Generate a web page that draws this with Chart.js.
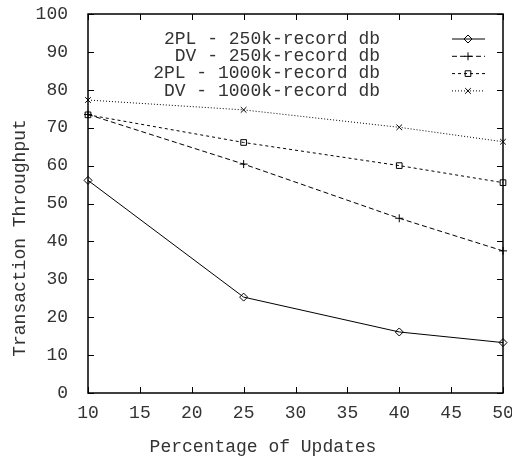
<!DOCTYPE html>
<html>
<head>
<meta charset="utf-8">
<script src="https://cdn.jsdelivr.net/npm/chart.js@4/dist/chart.umd.min.js"></script>
<style>
  body { margin: 0; background: #fff; }
  canvas { display: block; }
</style>
</head>
<body>
<canvas id="chart" width="512" height="460"></canvas>
<script>
// percentage of updates on the x axis
const updates = [10, 25, 40, 50];

// throughput values
const tpl250 = [56.1, 25.3, 16.1, 13.3];
const dv250 = [73.5, 60.4, 46.1, 37.5];
const tpl1000 = [73.4, 66.1, 60.0, 55.5];
const dv1000 = [77.3, 74.7, 70.1, 66.3];

const seriesNames = [
    '2PL - 250k-record db',
    'DV - 250k-record db',
    '2PL - 1000k-record db',
    'DV - 1000k-record db'
];

const xTicks = [10, 15, 20, 25, 30, 35, 40, 45, 50];
const yTicks = [0, 10, 20, 30, 40, 50, 60, 70, 80, 90, 100];

const FONT = '"Liberation Mono", "DejaVu Sans Mono", monospace';

function pts(ys) {
    return updates.map((x, i) => ({x: x, y: ys[i]}));
}

function makeSet(label, ys, style, dash) {
    return {
        label: label,
        data: pts(ys),
        borderColor: '#000',
        backgroundColor: 'rgba(0,0,0,0)',
        borderWidth: 1,
        borderDash: dash,
        pointStyle: style,
        pointRadius: 4,
        pointBorderWidth: 1,
        pointBorderColor: '#000',
        pointBackgroundColor: 'rgba(0,0,0,0)',
        tension: 0,
        clip: false
    };
}

// frame, inward ticks, legend and axis titles
const gnuplotLook = {
    id: 'gnuplotLook',
    afterDraw(chart) {
        const c = chart.ctx;
        const a = chart.chartArea;
        const xs = chart.scales.x;
        const ys = chart.scales.y;
        c.save();
        c.strokeStyle = '#000';
        c.lineWidth = 1;
        c.setLineDash([]);
        c.beginPath();
        xTicks.forEach(v => {
            const px = Math.round(xs.getPixelForValue(v)) + 0.5;
            c.moveTo(px, a.bottom); c.lineTo(px, a.bottom - 6);
            c.moveTo(px, a.top); c.lineTo(px, a.top + 6);
        });
        yTicks.forEach(v => {
            const py = Math.round(ys.getPixelForValue(v)) + 0.5;
            c.moveTo(a.left, py); c.lineTo(a.left + 6, py);
            c.moveTo(a.right, py); c.lineTo(a.right - 6, py);
        });
        c.stroke();
        c.lineWidth = 1.5;
        c.strokeRect(a.left, a.top, a.right - a.left, a.bottom - a.top);

        // legend at top right, text right aligned, sample on the right
        c.font = '18px ' + FONT;
        c.textAlign = 'right';
        c.textBaseline = 'middle';
        chart.data.datasets.forEach((ds, i) => {
            const y = 39 + i * 17.3;
            c.fillStyle = '#333';
            c.fillText(ds.label, 380, y);
            c.strokeStyle = '#000';
            c.lineWidth = 1;
            c.setLineDash(ds.borderDash);
            c.beginPath();
            c.moveTo(452, y); c.lineTo(485, y);
            c.stroke();
            c.setLineDash([]);
            c.fillStyle = 'rgba(0,0,0,0)';
            Chart.helpers.drawPoint(c, {
                pointStyle: ds.pointStyle,
                radius: ds.pointRadius,
                borderWidth: 1
            }, 468, y);
        });

        // axis titles
        c.fillStyle = '#333';
        c.textAlign = 'center';
        c.fillText('Percentage of Updates', 263, 447);
        c.translate(20, 238);
        c.rotate(-Math.PI / 2);
        c.fillText('Transaction Throughput', 0, 0);
        c.restore();
    }
};

new Chart(document.getElementById('chart'), {
    type: 'line',
    data: {
        datasets: [
            makeSet(seriesNames[0], tpl250, 'rectRot', []),
            makeSet(seriesNames[1], dv250, 'cross', [5, 3]),
            makeSet(seriesNames[2], tpl1000, 'rect', [3, 3]),
            makeSet(seriesNames[3], dv1000, 'crossRot', [1, 2])
        ]
    },
    options: {
        responsive: false,
        animation: false,
        layout: {
            padding: {left: 0, right: 9, top: 14, bottom: 0}
        },
        plugins: {
            legend: {display: false},
            tooltip: {enabled: false}
        },
        scales: {
            x: {
                type: 'linear',
                min: 10,
                max: 50,
                grid: {display: false, drawTicks: false},
                border: {display: false},
                afterFit: s => {
                    s.height = 67;
                    s.paddingLeft = 0;
                    s.paddingRight = 0;
                },
                afterBuildTicks: s => { s.ticks = xTicks.map(v => ({value: v})); },
                ticks: {
                    padding: 9,
                    color: '#333',
                    font: {family: FONT, size: 18}
                }
            },
            y: {
                min: 0,
                max: 100,
                grid: {display: false, drawTicks: false},
                border: {display: false},
                afterFit: s => {
                    s.width = 88;
                    s.paddingTop = 0;
                    s.paddingBottom = 0;
                },
                afterBuildTicks: s => { s.ticks = yTicks.map(v => ({value: v})); },
                ticks: {
                    padding: 20,
                    color: '#333',
                    font: {family: FONT, size: 18}
                }
            }
        }
    },
    plugins: [gnuplotLook]
});
</script>
</body>
</html>
